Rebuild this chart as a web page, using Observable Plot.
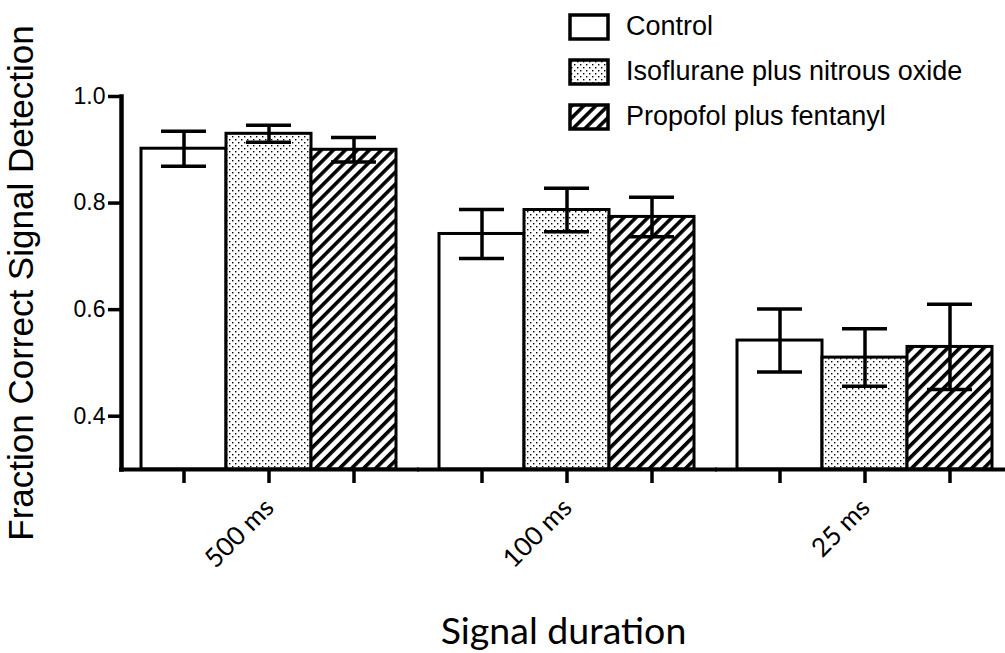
<!DOCTYPE html>
<html>
<head>
<meta charset="utf-8">
<script src="https://cdn.jsdelivr.net/npm/d3@7"></script>
<script src="https://cdn.jsdelivr.net/npm/@observablehq/plot@0.6"></script>
<style>
  html, body { margin: 0; padding: 0; background: #fff; overflow: hidden; }
  #chart { position: relative; width: 1005px; height: 653px; }
  #key { position: absolute; left: 570px; top: 4px; }
  #key .key-swatch { height: 45px !important; padding: 0 !important; margin: 0 !important; }
  #key .key-swatch svg { overflow: visible; margin-right: 18px !important; }
  #key .key-swatch svg rect { stroke: #000; stroke-width: 3.5px; }
  #key .key-swatch-label { overflow: visible !important; }
</style>
</head>
<body>
<!-- fill patterns shared by the bars and the legend swatches -->
<svg width="0" height="0" style="position:absolute">
  <defs>
    <pattern id="dots" patternUnits="userSpaceOnUse" width="6" height="6">
      <rect width="6" height="6" fill="#fff"/>
      <rect x="1" y="1" width="1.4" height="1.4" fill="#000"/>
      <rect x="4" y="4" width="1.4" height="1.4" fill="#000"/>
    </pattern>
    <pattern id="hatch" patternUnits="userSpaceOnUse" width="8.5" height="8.5" patternTransform="rotate(45)">
      <rect width="8.5" height="8.5" fill="#fff"/>
      <rect x="0" y="0" width="3.6" height="8.5" fill="#000"/>
    </pattern>
  </defs>
</svg>
<div id="chart"><div id="key"></div></div>
<script>
// Signal durations (x groups) and anesthetic conditions (bars within a group)
const durations = ["500 ms", "100 ms", "25 ms"];
const groups = ["Control", "Isoflurane plus nitrous oxide", "Propofol plus fentanyl"];
const groupFills = ["white", "url(#dots)", "url(#hatch)"];

// Mean fraction correct and error (half-width of the error bar) per duration
const controlMean = [0.902, 0.742, 0.542];
const controlErr  = [0.033, 0.046, 0.059];
const isoMean     = [0.930, 0.787, 0.510];
const isoErr      = [0.016, 0.041, 0.054];
const propMean    = [0.900, 0.774, 0.530];
const propErr     = [0.023, 0.037, 0.080];

const yDomain = [0.3, 1.0];
const yTicks = [0.4, 0.6, 0.8, 1.0];

const means = [controlMean, isoMean, propMean];
const errs = [controlErr, isoErr, propErr];
const rows = durations.flatMap((duration, i) =>
  groups.map((group, j) => ({duration, group, mean: means[j][i], err: errs[j][i]}))
);

const black = "#000";
const arialLike = "'Liberation Sans', Arial, sans-serif";
const calibriLike = "Lato, 'Open Sans', sans-serif";

const chart = Plot.plot({
  width: 1005,
  height: 653,
  marginTop: 96,
  marginRight: 0,
  marginBottom: 184,
  marginLeft: 121,
  style: {fontFamily: arialLike, color: black, background: "transparent"},
  fx: {domain: durations, paddingInner: 0.0336, paddingOuter: 0},
  x: {domain: groups, paddingInner: 0, paddingOuter: 0.194, align: 0.606},
  y: {domain: yDomain},
  color: {domain: groups, range: groupFills},
  marks: [
    Plot.barY(rows, {fx: "duration", x: "group", y1: yDomain[0], y2: "mean", fill: "group", stroke: black, strokeWidth: 3}),
    Plot.ruleX(rows, {fx: "duration", x: "group", y1: (d) => d.mean - d.err, y2: (d) => d.mean + d.err, stroke: black, strokeWidth: 3.5}),
    Plot.tickY(rows, {fx: "duration", x: "group", y: (d) => d.mean - d.err, stroke: black, strokeWidth: 3.5, insetLeft: 20, insetRight: 20}),
    Plot.tickY(rows, {fx: "duration", x: "group", y: (d) => d.mean + d.err, stroke: black, strokeWidth: 3.5, insetLeft: 20, insetRight: 20}),
    // baseline running under all groups
    Plot.ruleY([yDomain[0]], {stroke: black, strokeWidth: 4, insetLeft: -2, insetRight: -10}),
    // vertical axis line
    Plot.frame({anchor: "left", facetAnchor: "left", stroke: black, strokeWidth: 4.5}),
    Plot.axisY({ticks: yTicks, tickFormat: ".1f", tickSize: 13, tickPadding: 3, strokeWidth: 3.5, fontSize: 23, fontFamily: arialLike, label: null}),
    Plot.axisY({tickSize: 0, tickFormat: () => "", fontSize: 35, fontFamily: arialLike, label: "Fraction Correct Signal Detection", labelArrow: "none", labelAnchor: "center", labelOffset: 113}),
    Plot.axisX({tickSize: 14, strokeWidth: 3.5, fill: "none", label: null}),
    Plot.axisFx({anchor: "bottom", tickRotate: -45, tickSize: 0, tickPadding: 34, dx: 4, fontSize: 26, fontFamily: calibriLike, label: null}),
    Plot.axisFx({anchor: "bottom", tickSize: 0, tickFormat: () => "", fontSize: 37.5, fontFamily: calibriLike, label: "Signal duration", labelArrow: "none", labelAnchor: "center", labelOffset: 174})
  ]
});
document.getElementById("chart").prepend(chart);

const key = Plot.legend({
  color: {domain: groups, range: groupFills, type: "ordinal"},
  legend: "swatches",
  columns: 1,
  swatchWidth: 38,
  swatchHeight: 24,
  className: "key",
  style: {fontSize: "27px", fontFamily: arialLike, color: black}
});
document.getElementById("key").append(key);
</script>
</body>
</html>
